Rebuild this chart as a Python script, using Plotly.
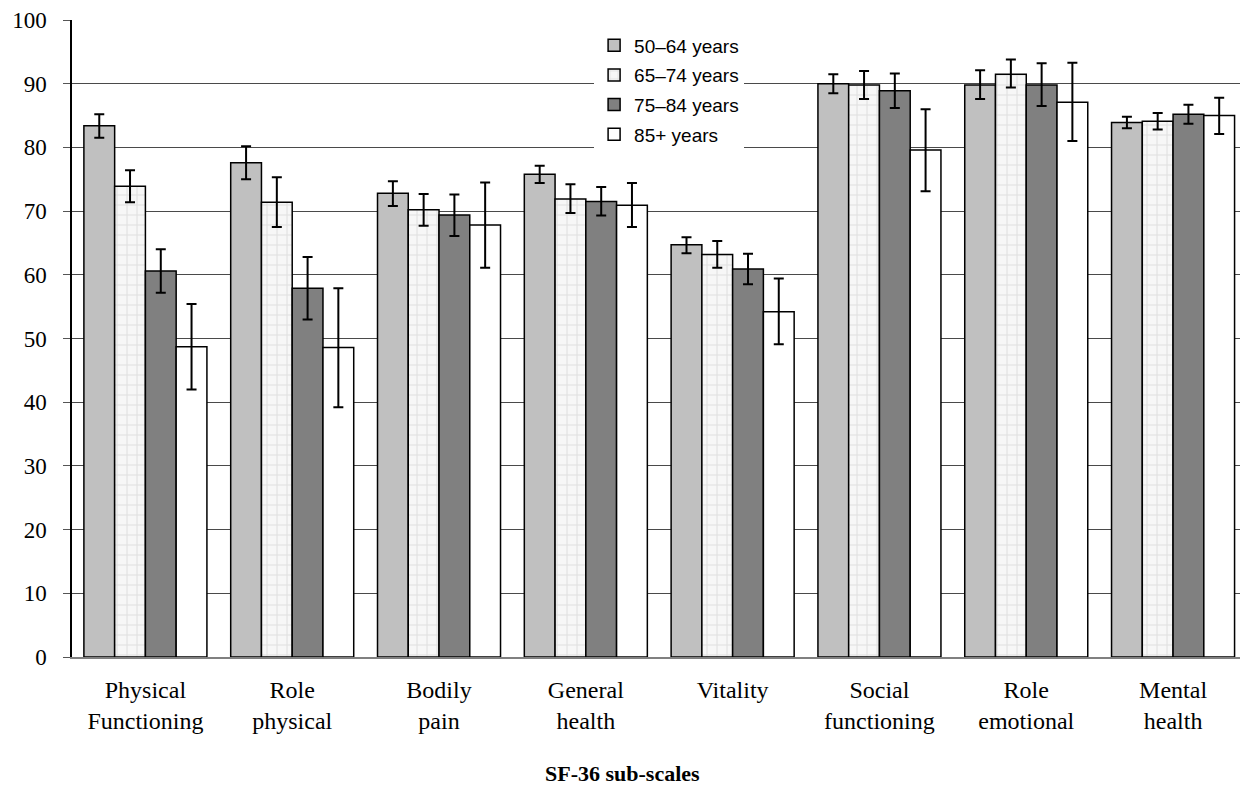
import plotly.graph_objects as go

categories = ["Physical<br>Functioning", "Role<br>physical", "Bodily<br>pain", "General<br>health",
              "Vitality", "Social<br>functioning", "Role<br>emotional", "Mental<br>health"]
groups = ["50–64 years", "65–74 years", "75–84 years", "85+ years"]

v_50_64 = [83.4, 77.6, 72.8, 75.8, 64.7, 90.0, 89.8, 83.9]
lo_50_64 = [81.5, 75.0, 70.8, 74.4, 63.4, 88.5, 87.6, 83.0]
hi_50_64 = [85.2, 80.2, 74.7, 77.1, 65.9, 91.5, 92.1, 84.8]

v_65_74 = [73.9, 71.4, 70.2, 71.9, 63.2, 89.8, 91.5, 84.1]
lo_65_74 = [71.4, 67.5, 67.7, 69.7, 61.1, 87.6, 89.4, 82.8]
hi_65_74 = [76.4, 75.3, 72.7, 74.2, 65.3, 92.0, 93.8, 85.4]

v_75_84 = [60.6, 57.9, 69.4, 71.5, 60.9, 88.9, 89.8, 85.2]
lo_75_84 = [57.2, 53.0, 66.1, 69.3, 58.5, 86.2, 86.5, 83.7]
hi_75_84 = [64.0, 62.8, 72.6, 73.8, 63.3, 91.6, 93.2, 86.7]

v_85 = [48.7, 48.6, 67.8, 70.9, 54.2, 79.6, 87.1, 85.0]
lo_85 = [42.0, 39.2, 61.1, 67.5, 49.1, 73.1, 81.0, 82.1]
hi_85 = [55.4, 57.9, 74.5, 74.4, 59.4, 86.0, 93.3, 87.8]

y_ticks = [0, 10, 20, 30, 40, 50, 60, 70, 80, 90, 100]

series = [
    (groups[0], v_50_64, lo_50_64, hi_50_64, dict(color="#c0c0c0")),
    (groups[1], v_65_74, lo_65_74, hi_65_74,
     dict(color="#f6f6f6", pattern=dict(shape="+", fgcolor="#c8c8c8", bgcolor="#f7f7f7",
                                         size=10, solidity=0.2))),
    (groups[2], v_75_84, lo_75_84, hi_75_84, dict(color="#808080")),
    (groups[3], v_85, lo_85, hi_85, dict(color="#ffffff")),
]

fig = go.Figure()
for name, vals, lo, hi, mk in series:
    mk = dict(mk)
    mk["line"] = dict(color="black", width=1.5)
    fig.add_trace(go.Bar(
        x=list(range(len(categories))), y=vals, name=name, legendgroup=name,
        marker=mk,
        error_y=dict(type="data", symmetric=False,
                     array=[h - v for h, v in zip(hi, vals)],
                     arrayminus=[v - l for v, l in zip(vals, lo)],
                     color="black", thickness=2, width=5),
    ))

fig.update_layout(
    width=1240, height=789,
    margin=dict(l=72, r=0, t=20, b=132),
    plot_bgcolor="white", paper_bgcolor="white",
    barmode="group", bargap=0.162, bargroupgap=0,
    font=dict(family="Liberation Serif", color="black"),
    legend=dict(x=0.447, y=0.99, xanchor="left", yanchor="top",
                bgcolor="white", borderwidth=0, tracegroupgap=2,
                font=dict(family="Liberation Sans", size=19, color="black")),
    xaxis=dict(tickmode="array", tickvals=list(range(len(categories))), ticktext=categories,
               range=[-0.5, 7.456], showgrid=False, ticks="", ticklabelstandoff=10,
               tickfont=dict(family="Liberation Serif", size=24, color="black"),
               showline=True, linecolor="#808080", linewidth=2, zeroline=False),
    yaxis=dict(range=[0, 100], tickvals=y_ticks, ticks="outside", ticklen=7,
               tickcolor="#555555", ticklabelstandoff=12,
               tickfont=dict(family="Liberation Serif", size=23, color="black"),
               showgrid=True, gridcolor="#4a4a4a", gridwidth=1,
               showline=True, linecolor="black", linewidth=1.5, zeroline=False),
    annotations=[dict(text="<b>SF-36 sub-scales</b>", xref="paper", yref="paper",
                      x=0.471, y=-0.2045, xanchor="center", yanchor="bottom", showarrow=False,
                      borderpad=0,
                      font=dict(family="Liberation Serif", size=22, color="black"))],
)

fig.write_html("out.html")
